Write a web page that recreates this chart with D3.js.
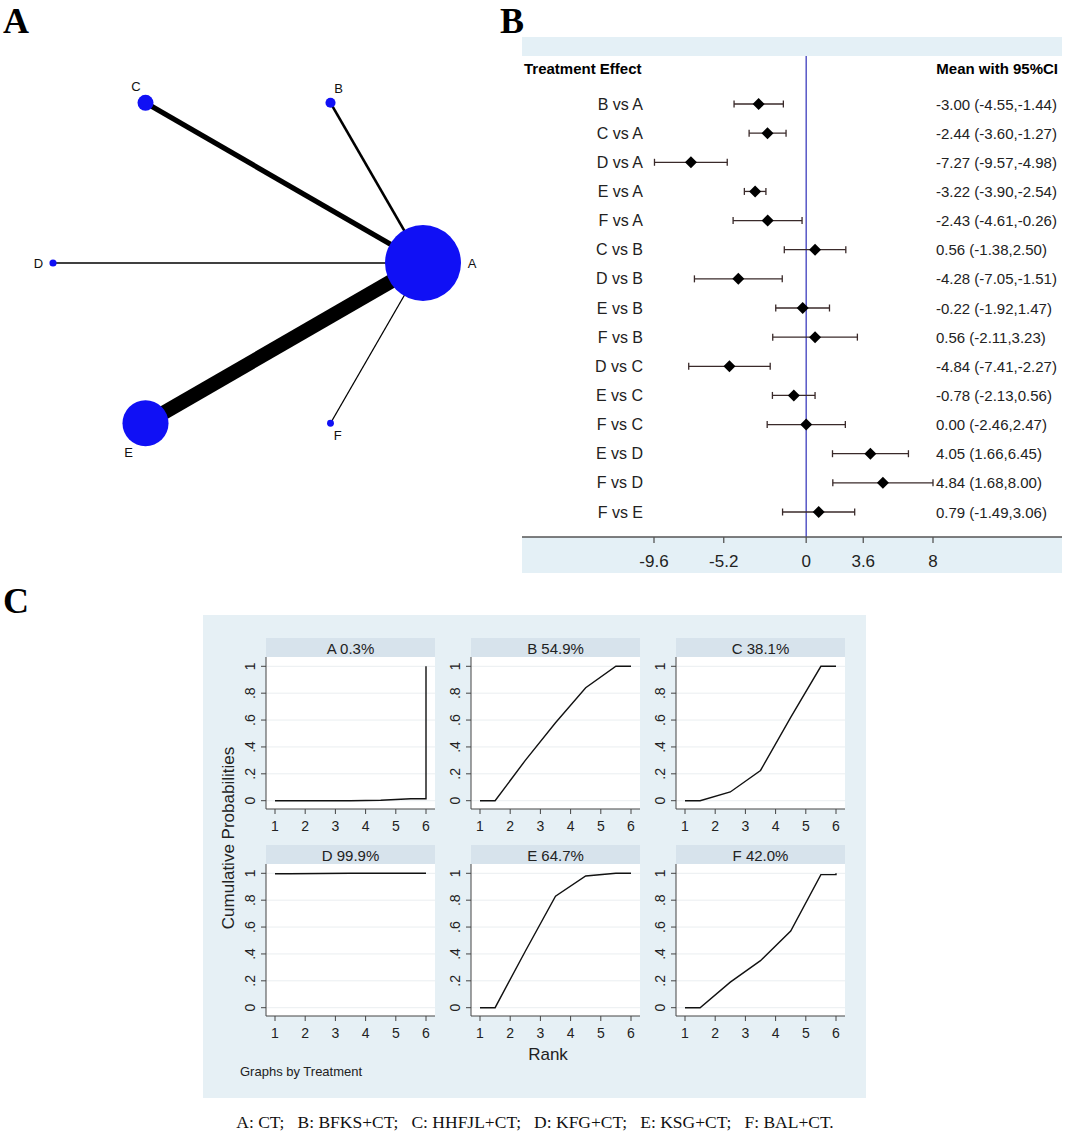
<!DOCTYPE html>
<html>
<head>
<meta charset="utf-8">
<script src="https://cdn.jsdelivr.net/npm/d3@7/dist/d3.min.js"></script>
<style>
  body { margin: 0; background: #fff; }
  text { font-family: "Liberation Sans", Arial, sans-serif; }
</style>
</head>
<body>
<div id="svgdiv"></div>
<script>
// ---- data ----
// network plot (panel A)
var treatments = ["A", "B", "C", "D", "E", "F"];
var sampleSize = [1580, 28, 70, 14, 580, 13];
var edgeFrom = ["A", "A", "A", "A", "A"];
var edgeTo = ["B", "C", "D", "E", "F"];
var edgeStudies = [2, 4, 1, 11, 1];

// forest plot (panel B)
var comparisons = ["B vs A", "C vs A", "D vs A", "E vs A", "F vs A", "C vs B", "D vs B",
                   "E vs B", "F vs B", "D vs C", "E vs C", "F vs C", "E vs D", "F vs D", "F vs E"];
var meanDiff = [-3.00, -2.44, -7.27, -3.22, -2.43, 0.56, -4.28, -0.22, 0.56, -4.84, -0.78, 0.00, 4.05, 4.84, 0.79];
var ciLow = [-4.55, -3.60, -9.57, -3.90, -4.61, -1.38, -7.05, -1.92, -2.11, -7.41, -2.13, -2.46, 1.66, 1.68, -1.49];
var ciHigh = [-1.44, -1.27, -4.98, -2.54, -0.26, 2.50, -1.51, 1.47, 3.23, -2.27, 0.56, 2.47, 6.45, 8.00, 3.06];
var forestTicks = [-9.6, -5.2, 0, 3.6, 8];

// cumulative ranking plot (panel C)
var panelTitles = ["A 0.3%", "B 54.9%", "C 38.1%", "D 99.9%", "E 64.7%", "F 42.0%"];
var rankX = [1, 1.5, 2.5, 3.5, 4.5, 5.5, 6, 6];
var cumA = [0, 0, 0, 0, 0.003, 0.015, 0.015, 1];
var cumB = [0, 0, 0.30, 0.58, 0.84, 1, 1, 1];
var cumC = [0, 0, 0.065, 0.225, 0.62, 1, 1, 1];
var cumD = [0.997, 0.997, 0.999, 1, 1, 1, 1, 1];
var cumE = [0, 0, 0.42, 0.83, 0.98, 1, 1, 1];
var cumF = [0, 0, 0.19, 0.35, 0.57, 0.99, 0.99, 1];
var rankTicks = [1, 2, 3, 4, 5, 6];
var probTicks = [0, 0.2, 0.4, 0.6, 0.8, 1];
var probTickLabels = ["0", ".2", ".4", ".6", ".8", "1"];

var footnote = "A: CT;   B: BFKS+CT;   C: HHFJL+CT;   D: KFG+CT;   E: KSG+CT;   F: BAL+CT.";

var width = 1065, height = 1132;
var svg = d3.select("#svgdiv").append("svg")
    .attr("width", width)
    .attr("height", height);

svg.append("rect").attr("width", width).attr("height", height).attr("fill", "#fff");

// panel letters
[["A", 3, 33], ["B", 500, 33], ["C", 3, 613]].forEach(function(p){
    svg.append("text")
       .text(p[0])
       .attr("x", p[1]).attr("y", p[2])
       .style("font-family", "'Liberation Serif', 'Times New Roman', serif")
       .style("font-weight", "bold")
       .style("font-size", "36px");
});

// ---------- panel A: network ----------
var cx = 238, cy = 263, R = 185;
var angle = d3.scaleLinear().domain([0, treatments.length]).range([0, 2 * Math.PI]);
var nodeR = d3.scaleSqrt().domain([0, d3.max(sampleSize)]).range([0, 38]);
var edgeW = d3.scaleLinear().domain([0, d3.max(edgeStudies)]).range([0, 14.3]);

var nodes = treatments.map(function(t, i){
    var a = angle(i);
    return {id: t, ux: Math.cos(a), uy: -Math.sin(a),
            x: cx + R * Math.cos(a), y: cy - R * Math.sin(a), r: nodeR(sampleSize[i])};
});
var nodeById = {};
nodes.forEach(function(n){ nodeById[n.id] = n; });

var gA = svg.append("g");
edgeFrom.forEach(function(f, i){
    var a = nodeById[f], b = nodeById[edgeTo[i]];
    gA.append("line")
      .attr("x1", a.x).attr("y1", a.y)
      .attr("x2", b.x).attr("y2", b.y)
      .attr("stroke", "#000")
      .attr("stroke-width", edgeW(edgeStudies[i]));
});
gA.selectAll("circle.node").data(nodes).enter().append("circle")
  .attr("class", "node")
  .attr("cx", function(d){ return d.x; })
  .attr("cy", function(d){ return d.y; })
  .attr("r", function(d){ return d.r; })
  .attr("fill", "#1010f5");
gA.selectAll("text.lab").data(nodes).enter().append("text")
  .attr("class", "lab")
  .text(function(d){ return d.id; })
  .attr("x", function(d){ return d.x + d.ux * (d.r + 11); })
  .attr("y", function(d){ return d.y + d.uy * (d.r + 11); })
  .attr("text-anchor", "middle")
  .attr("dominant-baseline", "central")
  .style("font-size", "13px")
  .attr("fill", "#111");

// ---------- panel B: forest ----------
var bLeft = 522, bRight = 1062;
var fx = d3.scaleLinear().domain([-9.6, 8]).range([654, 933]);
var fy = d3.scalePoint().domain(comparisons).range([104, 512]);
var gB = svg.append("g");

gB.append("rect").attr("x", bLeft).attr("y", 37).attr("width", bRight - bLeft).attr("height", 19)
  .attr("fill", "#e4f0f6");
gB.append("rect").attr("x", bLeft).attr("y", 537).attr("width", bRight - bLeft).attr("height", 36)
  .attr("fill", "#e4f0f6");

gB.append("text").text("Treatment Effect")
  .attr("x", 524).attr("y", 74)
  .style("font-size", "15px").style("font-weight", "bold");
gB.append("text").text("Mean with 95%CI")
  .attr("x", 1058).attr("y", 74).attr("text-anchor", "end")
  .style("font-size", "15px").style("font-weight", "bold");

gB.append("line")
  .attr("x1", fx(0)).attr("x2", fx(0))
  .attr("y1", 56).attr("y2", 537)
  .attr("stroke", "#3d3dbd").attr("stroke-width", 1.3);

comparisons.forEach(function(c, i){
    var y = fy(c);
    gB.append("text").text(c)
      .attr("x", 643).attr("y", y).attr("text-anchor", "end")
      .attr("dominant-baseline", "central")
      .style("font-size", "16px").attr("fill", "#222");
    gB.append("line")
      .attr("x1", fx(ciLow[i])).attr("x2", fx(ciHigh[i]))
      .attr("y1", y).attr("y2", y)
      .attr("stroke", "#3a2a2a").attr("stroke-width", 1.3);
    [ciLow[i], ciHigh[i]].forEach(function(v){
        gB.append("line")
          .attr("x1", fx(v)).attr("x2", fx(v))
          .attr("y1", y - 3.5).attr("y2", y + 3.5)
          .attr("stroke", "#3a2a2a").attr("stroke-width", 1.3);
    });
    var mx = fx(meanDiff[i]);
    gB.append("path")
      .attr("d", "M" + (mx - 6) + "," + y + "L" + mx + "," + (y - 6) + "L" + (mx + 6) + "," + y + "L" + mx + "," + (y + 6) + "Z")
      .attr("fill", "#000");
    var txt = meanDiff[i].toFixed(2) + " (" + ciLow[i].toFixed(2) + "," + ciHigh[i].toFixed(2) + ")";
    gB.append("text").text(txt)
      .attr("x", 936).attr("y", y)
      .attr("dominant-baseline", "central")
      .style("font-size", "15px").attr("fill", "#222");
});

gB.append("line").attr("x1", bLeft).attr("x2", bRight).attr("y1", 537).attr("y2", 537)
  .attr("stroke", "#555").attr("stroke-width", 1.5);
forestTicks.forEach(function(t){
    gB.append("line").attr("x1", fx(t)).attr("x2", fx(t)).attr("y1", 537).attr("y2", 543)
      .attr("stroke", "#555").attr("stroke-width", 1.3);
    gB.append("text").text(String(t))
      .attr("x", fx(t)).attr("y", 567).attr("text-anchor", "middle")
      .style("font-size", "17px").attr("fill", "#222");
});

// ---------- panel C: cumulative rank ----------
var gC = svg.append("g");
gC.append("rect").attr("x", 203).attr("y", 615).attr("width", 663).attr("height", 483)
  .attr("fill", "#e6f0f5");

var colLeft = [266, 471, 676], rowTop = [638, 845];
var pw = 169, headerH = 19, plotH = 152;
var cums = [cumA, cumB, cumC, cumD, cumE, cumF];

panelTitles.forEach(function(title, k){
    var left = colLeft[k % 3], top = rowTop[Math.floor(k / 3)];
    var g = gC.append("g");
    var px = d3.scaleLinear().domain([1, 6]).range([left + 9, left + 160]);
    var py = d3.scaleLinear().domain([0, 1]).range([top + 162.7, top + 28.3]);
    var axisY = top + headerH + plotH;

    g.append("rect").attr("x", left).attr("y", top).attr("width", pw).attr("height", headerH)
      .attr("fill", "#d7e3ec");
    g.append("text").text(title)
      .attr("x", left + pw / 2).attr("y", top + headerH / 2 + 1)
      .attr("text-anchor", "middle").attr("dominant-baseline", "central")
      .style("font-size", "15px").attr("fill", "#222");
    g.append("rect").attr("x", left).attr("y", top + headerH).attr("width", pw).attr("height", plotH)
      .attr("fill", "#fff");

    probTicks.forEach(function(t, j){
        g.append("line").attr("x1", left).attr("x2", left + pw)
          .attr("y1", py(t)).attr("y2", py(t))
          .attr("stroke", "#eaeef0").attr("stroke-width", 1);
        g.append("line").attr("x1", left - 5).attr("x2", left)
          .attr("y1", py(t)).attr("y2", py(t))
          .attr("stroke", "#444").attr("stroke-width", 1);
        g.append("text").text(probTickLabels[j])
          .attr("transform", "translate(" + (left - 11) + "," + py(t) + ") rotate(-90)")
          .attr("text-anchor", "middle")
          .style("font-size", "14px").attr("fill", "#222");
    });
    rankTicks.forEach(function(t){
        g.append("line").attr("x1", px(t)).attr("x2", px(t))
          .attr("y1", axisY).attr("y2", axisY + 5)
          .attr("stroke", "#444").attr("stroke-width", 1);
        g.append("text").text(String(t))
          .attr("x", px(t)).attr("y", axisY + 22).attr("text-anchor", "middle")
          .style("font-size", "14px").attr("fill", "#222");
    });
    g.append("line").attr("x1", left).attr("x2", left).attr("y1", top + headerH).attr("y2", axisY)
      .attr("stroke", "#444").attr("stroke-width", 1);
    g.append("line").attr("x1", left).attr("x2", left + pw).attr("y1", axisY).attr("y2", axisY)
      .attr("stroke", "#444").attr("stroke-width", 1);

    var line = d3.line()
        .x(function(d, i){ return px(rankX[i]); })
        .y(function(d){ return py(d); });
    g.append("path").datum(cums[k])
      .attr("d", line)
      .attr("fill", "none").attr("stroke", "#111").attr("stroke-width", 1.4);
});

gC.append("text").text("Cumulative Probabilities")
  .attr("transform", "translate(234,838) rotate(-90)")
  .attr("text-anchor", "middle")
  .style("font-size", "17px").attr("fill", "#222");
gC.append("text").text("Rank")
  .attr("x", 548).attr("y", 1060).attr("text-anchor", "middle")
  .style("font-size", "17px").attr("fill", "#222");
gC.append("text").text("Graphs by Treatment")
  .attr("x", 240).attr("y", 1076)
  .style("font-size", "13px").attr("fill", "#222");

svg.append("text").text(footnote)
  .attr("x", 535).attr("y", 1128).attr("text-anchor", "middle")
  .attr("xml:space", "preserve")
  .style("white-space", "pre")
  .style("font-family", "'Liberation Serif', 'Times New Roman', serif")
  .style("font-size", "17.5px").attr("fill", "#111");
</script>
</body>
</html>
